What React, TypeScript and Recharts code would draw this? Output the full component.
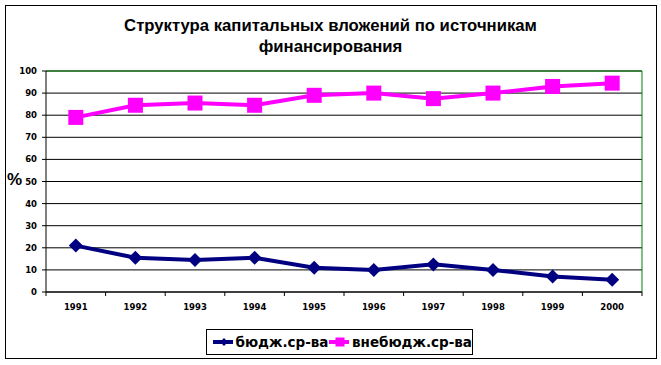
import React from 'react'
import { LineChart, Line, XAxis, YAxis, CartesianGrid, ReferenceLine } from 'recharts'

const years = ['1991', '1992', '1993', '1994', '1995', '1996', '1997', '1998', '1999', '2000']
const budget = [21, 15.5, 14.5, 15.5, 11, 10, 12.5, 10, 7, 5.5]
const offBudget = [79, 84.5, 85.5, 84.5, 89, 90, 87.5, 90, 93, 94.5]
const yTicks = [0, 10, 20, 30, 40, 50, 60, 70, 80, 90, 100]
const seriesNames = ['бюдж.ср-ва', 'внебюдж.ср-ва']

const NAVY = '#000080'
const PINK = '#FF00FF'
const GREEN = '#008000'

const W = 661
const H = 365
const M = { top: 71, right: 19, bottom: 43, left: 0 }
const Y_W = 46
const X_H = 30
const BAND = (W - M.left - M.right - Y_W) / years.length

const data = years.map((y, i) => ({ year: y, budget: budget[i], offBudget: offBudget[i] }))

const tickFont = { fontFamily: 'DejaVu Sans', fontWeight: 700, fontSize: 8.5, fill: '#000' }

function Diamond({ cx, cy, r = 7 }: any) {
  if (cx == null || cy == null) return null
  return <path d={`M${cx},${cy - r}L${cx + r},${cy}L${cx},${cy + r}L${cx - r},${cy}Z`} fill={NAVY} />
}

function Square({ cx, cy, r = 7.5 }: any) {
  if (cx == null || cy == null) return null
  return <rect x={cx - r} y={cy - r} width={r * 2} height={r * 2} fill={PINK} />
}

function XTick({ x, y, payload, index }: any) {
  const left = x - BAND / 2
  return (
    <g>
      <line x1={left} y1={y} x2={left} y2={y + 4} stroke="#000" />
      {index === years.length - 1 && <line x1={x + BAND / 2} y1={y} x2={x + BAND / 2} y2={y + 4} stroke="#000" />}
      <text x={x} y={y + 18} textAnchor="middle" {...tickFont}>{payload.value}</text>
    </g>
  )
}

function LegendIcon({ kind }: { kind: 'd' | 's' }) {
  return (
    <svg width={22} height={16} style={{ display: 'block' }}>
      <line x1={0} y1={8} x2={22} y2={8} stroke={kind === 'd' ? NAVY : PINK} strokeWidth={4} />
      {kind === 'd' ? <Diamond cx={11} cy={8} r={4} /> : <Square cx={11} cy={8} r={4.5} />}
    </svg>
  )
}

export default function App() {
  return (
    <div style={{ position: 'absolute', left: 0, top: 0, width: W, height: H, background: '#fff' }}>
      <div style={{ position: 'absolute', left: 5, top: 5, width: 650, height: 352, border: '1px solid #000' }} />
      <div style={{
        position: 'absolute', left: 0, top: 15, width: W, textAlign: 'center',
        fontFamily: 'Liberation Sans', fontWeight: 700, fontSize: 16.7, lineHeight: '21px', color: '#000',
      }}>
        Структура капитальных вложений по источникам<br />финансирования
      </div>
      <div style={{
        position: 'absolute', left: 7, top: 170, fontFamily: 'Liberation Sans', fontWeight: 700, fontSize: 17, color: '#000',
      }}>%</div>
      <div style={{ position: 'absolute', left: 0, top: 0 }}>
        <LineChart width={W} height={H} data={data} margin={M}>
          <CartesianGrid vertical={false} stroke="#000" strokeOpacity={1} />
          <XAxis
            dataKey="year"
            scale="band"
            height={X_H}
            axisLine={{ stroke: '#000' }}
            tickLine={false}
            tickSize={0}
            tickMargin={0}
            interval={0}
            tick={<XTick />}
          />
          <YAxis
            domain={[0, 100]}
            ticks={yTicks}
            width={Y_W}
            interval={0}
            axisLine={{ stroke: '#000' }}
            tickLine={{ stroke: '#000' }}
            tickSize={4}
            tickMargin={5}
            tick={tickFont}
          />
          <ReferenceLine y={100} stroke={GREEN} />
          <ReferenceLine x={years[years.length - 1]} position="end" stroke={GREEN} />
          <Line
            dataKey="budget"
            name={seriesNames[0]}
            stroke={NAVY}
            strokeWidth={4}
            dot={(p: any) => <Diamond key={`d${p.index}`} cx={p.cx} cy={p.cy} />}
            activeDot={false}
            isAnimationActive={false}
          />
          <Line
            dataKey="offBudget"
            name={seriesNames[1]}
            stroke={PINK}
            strokeWidth={4}
            dot={(p: any) => <Square key={`s${p.index}`} cx={p.cx} cy={p.cy} />}
            activeDot={false}
            isAnimationActive={false}
          />
        </LineChart>
      </div>
      <div style={{
        position: 'absolute', left: 206, top: 329, width: 259, height: 24, border: '1px solid #000',
        display: 'flex', alignItems: 'center', paddingLeft: 6, boxSizing: 'content-box',
        fontFamily: 'DejaVu Sans', fontWeight: 700, fontSize: 13.5, color: '#000', whiteSpace: 'nowrap',
      }}>
        <LegendIcon kind="d" />
        <span style={{ marginLeft: 3, marginRight: 1 }}>{seriesNames[0]}</span>
        <LegendIcon kind="s" />
        <span style={{ marginLeft: 3 }}>{seriesNames[1]}</span>
      </div>
    </div>
  )
}
